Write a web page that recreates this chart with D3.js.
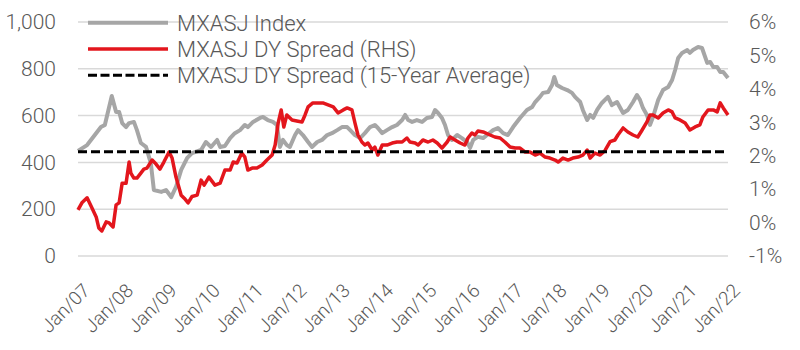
<!DOCTYPE html>
<html lang="en">
<head>
    <meta charset="UTF-8">
    <title>MXASJ Index vs DY Spread</title>
    <script src="https://d3js.org/d3.v7.min.js"></script>
    <style>
        body {
            margin: 0;
            background: #fff;
            font-family: Roboto, "Open Sans", Arial, sans-serif;
        }
        .tick-label, .legend-text {
            fill: #595959;
            font-weight: 300;
        }
    </style>
</head>
<body>
<div id="chart"></div>

<script>
    // MXASJ index level (left axis), [decimal year, value]
    const indexSeries = [
        [2007.00, 449], [2007.21, 474], [2007.53, 551], [2007.62, 560], [2007.78, 684], [2007.88, 615],
        [2007.95, 615], [2008.02, 568], [2008.11, 551], [2008.18, 568], [2008.29, 573], [2008.36, 538],
        [2008.45, 483], [2008.57, 466], [2008.68, 397], [2008.75, 282], [2008.92, 274], [2009.03, 282],
        [2009.15, 252], [2009.26, 295], [2009.38, 368], [2009.52, 419], [2009.63, 440], [2009.84, 453],
        [2009.95, 487], [2010.07, 466], [2010.21, 496], [2010.28, 466], [2010.39, 470], [2010.51, 504],
        [2010.62, 525], [2010.74, 538], [2010.85, 560], [2010.92, 551], [2011.04, 573], [2011.20, 590],
        [2011.27, 594], [2011.38, 581], [2011.50, 573], [2011.59, 560], [2011.66, 466], [2011.73, 496],
        [2011.82, 474], [2011.89, 466], [2012.01, 517], [2012.08, 538], [2012.19, 517], [2012.31, 487],
        [2012.40, 466], [2012.52, 487], [2012.63, 496], [2012.75, 517], [2012.86, 525], [2012.98, 538],
        [2013.09, 551], [2013.21, 551], [2013.28, 538], [2013.39, 517], [2013.51, 504], [2013.62, 525],
        [2013.74, 551], [2013.85, 560], [2013.92, 547], [2014.02, 525], [2014.13, 538], [2014.25, 551],
        [2014.36, 560], [2014.48, 581], [2014.55, 603], [2014.62, 581], [2014.71, 573], [2014.82, 581],
        [2014.94, 573], [2015.05, 590], [2015.17, 594], [2015.24, 624], [2015.31, 611], [2015.40, 590],
        [2015.47, 560], [2015.54, 517], [2015.63, 496], [2015.75, 517], [2015.86, 504], [2015.98, 487],
        [2016.05, 462], [2016.12, 496], [2016.23, 509], [2016.35, 504], [2016.44, 517], [2016.58, 538],
        [2016.69, 547], [2016.81, 525], [2016.92, 517], [2017.04, 551], [2017.20, 590], [2017.36, 624],
        [2017.48, 637], [2017.55, 658], [2017.66, 680], [2017.73, 697], [2017.85, 701], [2017.94, 731],
        [2017.99, 765], [2018.05, 731], [2018.17, 718], [2018.29, 709], [2018.40, 697], [2018.47, 680],
        [2018.59, 658], [2018.65, 624], [2018.75, 581], [2018.82, 603], [2018.89, 590], [2018.98, 624],
        [2019.09, 654], [2019.23, 680], [2019.32, 645], [2019.44, 658], [2019.58, 611], [2019.69, 624],
        [2019.81, 658], [2019.90, 688], [2019.97, 667], [2020.04, 632], [2020.13, 603], [2020.20, 560],
        [2020.27, 594], [2020.39, 667], [2020.50, 709], [2020.62, 722], [2020.71, 752], [2020.78, 795],
        [2020.85, 846], [2020.94, 868], [2021.06, 880], [2021.12, 868], [2021.19, 880], [2021.31, 893],
        [2021.40, 889], [2021.52, 825], [2021.59, 829], [2021.66, 808], [2021.75, 808], [2021.82, 786],
        [2021.89, 786], [2022.00, 761]
    ];

    // MXASJ DY spread in % (right axis), [decimal year, value]
    const spreadSeries = [
        [2007.00, 0.38], [2007.09, 0.59], [2007.21, 0.74], [2007.32, 0.44], [2007.42, 0.17], [2007.48, -0.16],
        [2007.55, -0.25], [2007.65, 0.02], [2007.72, -0.01], [2007.81, -0.13], [2007.88, 0.53], [2007.95, 0.59],
        [2008.02, 1.18], [2008.11, 1.18], [2008.18, 1.81], [2008.22, 1.48], [2008.29, 1.33], [2008.36, 1.33],
        [2008.45, 1.48], [2008.52, 1.60], [2008.59, 1.63], [2008.71, 1.87], [2008.80, 1.75], [2008.89, 1.60],
        [2008.98, 1.81], [2009.10, 2.11], [2009.17, 1.93], [2009.26, 1.36], [2009.38, 0.82], [2009.45, 0.73],
        [2009.54, 0.59], [2009.63, 0.78], [2009.75, 0.82], [2009.84, 1.27], [2009.91, 1.12], [2010.02, 1.36],
        [2010.16, 1.12], [2010.28, 1.18], [2010.39, 1.57], [2010.51, 1.57], [2010.58, 1.81], [2010.67, 1.78],
        [2010.78, 2.08], [2010.85, 1.96], [2010.92, 1.57], [2011.02, 1.63], [2011.13, 1.63], [2011.25, 1.72],
        [2011.36, 1.87], [2011.48, 2.02], [2011.55, 2.32], [2011.62, 2.98], [2011.69, 3.37], [2011.75, 2.86],
        [2011.82, 3.22], [2011.94, 3.07], [2012.05, 3.04], [2012.17, 3.01], [2012.24, 3.22], [2012.31, 3.46],
        [2012.42, 3.58], [2012.54, 3.58], [2012.65, 3.58], [2012.77, 3.52], [2012.89, 3.46], [2013.00, 3.28],
        [2013.12, 3.37], [2013.21, 3.43], [2013.32, 3.37], [2013.39, 2.98], [2013.46, 2.62], [2013.55, 2.41],
        [2013.62, 2.32], [2013.69, 2.38], [2013.79, 2.17], [2013.85, 2.26], [2013.92, 2.02], [2014.02, 2.32],
        [2014.13, 2.32], [2014.25, 2.38], [2014.36, 2.41], [2014.48, 2.41], [2014.59, 2.53], [2014.66, 2.41],
        [2014.78, 2.38], [2014.85, 2.32], [2014.96, 2.47], [2015.08, 2.41], [2015.19, 2.47], [2015.29, 2.38],
        [2015.40, 2.23], [2015.52, 2.41], [2015.59, 2.56], [2015.70, 2.47], [2015.82, 2.38], [2015.93, 2.32],
        [2016.00, 2.53], [2016.09, 2.68], [2016.16, 2.62], [2016.23, 2.74], [2016.35, 2.71], [2016.51, 2.62],
        [2016.62, 2.56], [2016.74, 2.53], [2016.85, 2.41], [2016.97, 2.26], [2017.09, 2.23], [2017.20, 2.23],
        [2017.32, 2.11], [2017.43, 2.11], [2017.55, 2.02], [2017.66, 2.08], [2017.78, 1.96], [2017.89, 1.93],
        [2018.01, 1.87], [2018.08, 1.81], [2018.19, 1.93], [2018.31, 1.87], [2018.42, 1.93], [2018.54, 1.96],
        [2018.65, 2.02], [2018.75, 2.17], [2018.82, 1.93], [2018.93, 2.08], [2019.05, 2.02], [2019.16, 2.15],
        [2019.28, 2.42], [2019.39, 2.47], [2019.46, 2.62], [2019.58, 2.83], [2019.69, 2.71], [2019.81, 2.62],
        [2019.92, 2.56], [2020.02, 2.77], [2020.13, 3.01], [2020.20, 3.22], [2020.27, 3.22], [2020.39, 3.13],
        [2020.50, 3.28], [2020.62, 3.37], [2020.71, 3.31], [2020.78, 3.13], [2020.89, 3.07], [2021.01, 2.98],
        [2021.12, 2.77], [2021.24, 2.86], [2021.35, 2.92], [2021.42, 3.16], [2021.54, 3.37], [2021.66, 3.37],
        [2021.75, 3.31], [2021.82, 3.58], [2021.89, 3.43], [2022.00, 3.22]
    ];

    const avgSpread = 2.12;               // 15-year average, %
    const avgSpan = [2007.00, 2021.96];

    const leftTicks = [0, 200, 400, 600, 800, 1000];
    const rightTicks = [-1, 0, 1, 2, 3, 4, 5, 6];
    const seriesNames = ["MXASJ Index", "MXASJ DY Spread (RHS)", "MXASJ DY Spread (15-Year Average)"];

    const W = 800, H = 350;
    const plot = {left: 78, right: 728, top: 22, bottom: 256};

    const svg = d3.select("#chart").append("svg")
        .attr("width", W)
        .attr("height", H);

    // decimal year -> Date
    function toDate(t) {
        const y = Math.floor(t);
        const a = new Date(y, 0, 1), b = new Date(y + 1, 0, 1);
        return new Date(+a + (t - y) * (b - a));
    }

    const x = d3.scaleTime()
        .domain([new Date(2007, 0, 1), new Date(2022, 0, 1)])
        .range([plot.left, plot.right]);

    const yL = d3.scaleLinear().domain([0, 1000]).range([plot.bottom, plot.top]);
    const yR = d3.scaleLinear().domain([-1, 6]).range([plot.bottom, plot.top]);

    // gridlines (left axis)
    svg.append("g")
        .selectAll("line")
        .data(leftTicks)
        .join("line")
        .attr("x1", plot.left)
        .attr("x2", plot.right)
        .attr("y1", d => yL(d))
        .attr("y2", d => yL(d))
        .attr("stroke", "#d9d9d9")
        .attr("stroke-width", 1.5);

    // left axis labels
    const leftAxis = svg.append("g")
        .attr("transform", `translate(${plot.left - 22},0)`)
        .call(d3.axisLeft(yL).tickValues(leftTicks).tickSize(0).tickPadding(0).tickFormat(d3.format(",")));
    leftAxis.select(".domain").remove();
    leftAxis.selectAll("text")
        .attr("class", "tick-label")
        .style("font-size", "21px")
        .style("font-family", "Roboto, sans-serif");

    // right axis labels
    const rightAxis = svg.append("g")
        .attr("transform", `translate(${plot.right + 21},0)`)
        .call(d3.axisRight(yR).tickValues(rightTicks).tickSize(0).tickPadding(0).tickFormat(d => d + "%"));
    rightAxis.select(".domain").remove();
    rightAxis.selectAll("text")
        .attr("class", "tick-label")
        .style("font-size", "21px")
        .style("font-family", "Roboto, sans-serif");

    // x axis labels, rotated
    const bottomAxis = svg.append("g")
        .attr("transform", `translate(0,${plot.bottom + 26})`)
        .call(d3.axisBottom(x).ticks(d3.timeYear.every(1)).tickSize(0).tickPadding(0).tickFormat(d3.timeFormat("%b/%y")));
    bottomAxis.select(".domain").remove();
    bottomAxis.selectAll("text")
        .attr("class", "tick-label")
        .style("font-size", "19px")
        .style("font-family", "Roboto, sans-serif")
        .style("text-anchor", "end")
        .attr("y", 0)
        .attr("dy", "0.72em")
        .attr("transform", "translate(3,0) rotate(-45)");

    const lineL = d3.line().x(d => x(toDate(d[0]))).y(d => yL(d[1]));
    const lineR = d3.line().x(d => x(toDate(d[0]))).y(d => yR(d[1]));

    svg.append("path")
        .datum(indexSeries)
        .attr("d", lineL)
        .attr("fill", "none")
        .attr("stroke", "#a6a6a6")
        .attr("stroke-width", 4)
        .attr("stroke-linejoin", "round");

    svg.append("path")
        .datum(spreadSeries)
        .attr("d", lineR)
        .attr("fill", "none")
        .attr("stroke", "#e3161d")
        .attr("stroke-width", 3.5)
        .attr("stroke-linejoin", "round");

    svg.append("path")
        .datum(avgSpan.map(t => [t, avgSpread]))
        .attr("d", lineR)
        .attr("fill", "none")
        .attr("stroke", "#000")
        .attr("stroke-width", 3)
        .attr("stroke-dasharray", "9,4");

    // legend
    const legendStyles = [
        {color: "#a6a6a6", width: 4, dash: null},
        {color: "#e3161d", width: 3.5, dash: null},
        {color: "#000", width: 3, dash: "9,3.5"}
    ];
    const legend = svg.append("g")
        .selectAll("g")
        .data(seriesNames)
        .join("g")
        .attr("transform", (d, i) => `translate(88,${22.7 + i * 26.3})`);

    legend.append("line")
        .attr("x1", 0)
        .attr("x2", 80)
        .attr("stroke", (d, i) => legendStyles[i].color)
        .attr("stroke-width", (d, i) => legendStyles[i].width)
        .attr("stroke-dasharray", (d, i) => legendStyles[i].dash);

    legend.append("text")
        .attr("class", "legend-text")
        .attr("x", 89)
        .attr("y", 8)
        .style("font-size", "22px")
        .text(d => d);
</script>
</body>
</html>
